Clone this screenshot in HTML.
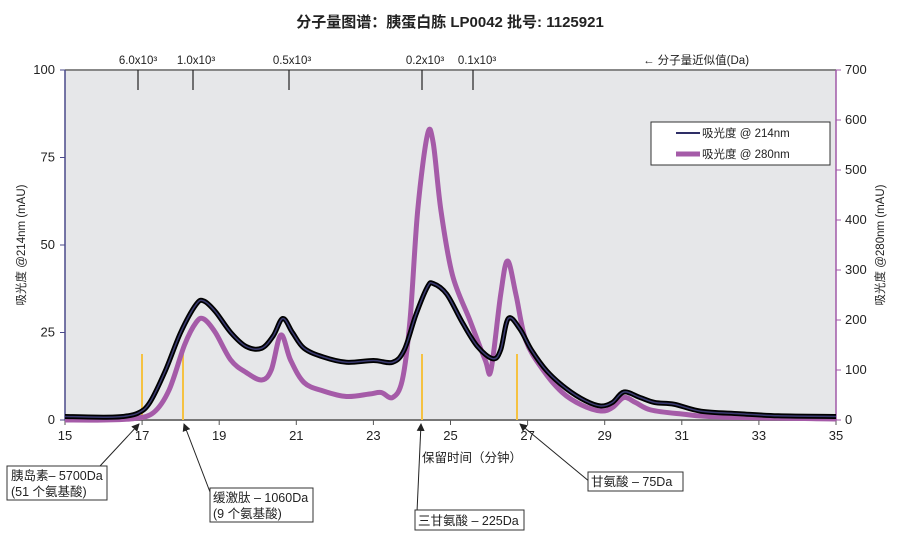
<!DOCTYPE html>
<html><head><meta charset="utf-8"><style>
body{margin:0;background:#fff;width:901px;height:536px;overflow:hidden}
svg{font-family:"Liberation Sans","Noto Sans CJK SC",sans-serif}
</style></head><body>
<svg id="s" width="901" height="536" viewBox="0 0 901 536" xmlns="http://www.w3.org/2000/svg">
<defs><marker id="ar" markerWidth="8" markerHeight="8" refX="7" refY="4" orient="auto"><path d="M0,0 L8,4 L0,8 z" fill="#222"/></marker></defs>
<text x="450" y="27" font-size="15" font-weight="bold" text-anchor="middle" fill="#222">分子量图谱：胰蛋白胨 LP0042  批号: 1125921</text>
<rect x="65" y="70" width="771" height="350" fill="#e6e7e9"/>
<line x1="65" y1="70" x2="836" y2="70" stroke="#888" stroke-width="2"/>
<line x1="65" y1="70" x2="65" y2="420" stroke="#4a4a8a" stroke-width="1.5"/>
<line x1="836" y1="70" x2="836" y2="420" stroke="#a05aa8" stroke-width="1.5"/>
<line x1="65" y1="420" x2="836" y2="420" stroke="#777" stroke-width="2"/>
<g id="ticks" font-size="13" fill="#222"></g>
<g stroke="#222" stroke-width="1.2">
<line x1="138" y1="70" x2="138" y2="90"/><line x1="193" y1="70" x2="193" y2="90"/><line x1="289" y1="70" x2="289" y2="90"/><line x1="422" y1="70" x2="422" y2="90"/><line x1="473" y1="70" x2="473" y2="90"/>
</g>
<g font-size="11.5" fill="#222" text-anchor="middle">
<text x="138" y="64">6.0x10³</text><text x="196" y="64">1.0x10³</text><text x="292" y="64">0.5x10³</text><text x="425" y="64">0.2x10³</text><text x="477" y="64">0.1x10³</text>
<text x="696" y="64">← 分子量近似值(Da)</text>
</g>
<g stroke="#f5c242" stroke-width="2">
<line x1="142" y1="354" x2="142" y2="420"/><line x1="183" y1="354" x2="183" y2="420"/><line x1="422" y1="354" x2="422" y2="420"/><line x1="517" y1="354" x2="517" y2="420"/>
</g>
<path id="pp" fill="none" stroke="#a55ba8" stroke-width="5" stroke-linejoin="round"/>
<path id="bp" fill="none" stroke="#000" stroke-width="5" stroke-linejoin="round"/>
<path id="bp2" fill="none" stroke="#3a3a70" stroke-width="1.5" stroke-linejoin="round"/>
<rect x="651" y="122" width="179" height="43" fill="#fff" stroke="#333"/>
<line x1="676" y1="133" x2="700" y2="133" stroke="#2e2e66" stroke-width="2"/>
<line x1="676" y1="154" x2="700" y2="154" stroke="#a55ba8" stroke-width="5"/>
<text x="702" y="137" font-size="11.5" fill="#222">吸光度 @ 214nm</text>
<text x="702" y="158" font-size="11.5" fill="#222">吸光度 @ 280nm</text>
<text transform="translate(25,245) rotate(-90)" font-size="11.5" text-anchor="middle" fill="#222">吸光度 @214nm (mAU)</text>
<text transform="translate(884,245) rotate(-90)" font-size="11.5" text-anchor="middle" fill="#222">吸光度 @280nm (mAU)</text>
<text x="472" y="462" font-size="12.5" text-anchor="middle" fill="#222">保留时间（分钟）</text>
<g stroke="#222" stroke-width="1" marker-end="url(#ar)">
<line x1="100" y1="466" x2="139" y2="424"/><line x1="210" y1="492" x2="184" y2="424"/><line x1="417" y1="512" x2="421" y2="424"/><line x1="590" y1="482" x2="520" y2="424"/>
</g>
<g fill="#fff" stroke="#333"><rect x="7" y="466" width="100" height="34"/><rect x="210" y="488" width="103" height="34"/><rect x="415" y="510" width="109" height="20"/><rect x="588" y="472" width="95" height="19"/></g>
<g font-size="12.5" fill="#222">
<text x="11" y="480">胰岛素– 5700Da</text><text x="11" y="496">(51 个氨基酸)</text>
<text x="213" y="502">缓激肽 – 1060Da</text><text x="213" y="518">(9 个氨基酸)</text>
<text x="418" y="525">三甘氨酸 – 225Da</text>
<text x="591" y="486">甘氨酸  – 75Da</text>
</g>
</svg>
<script>
var X=t=>65+(t-15)*38.55;
var b=[[15,1],[16,0.8],[16.5,1],[16.9,2],[17.2,5],[17.6,14],[18,25],[18.4,33],[18.6,34],[18.9,31],[19.3,25],[19.7,21],[20.1,20.5],[20.4,24],[20.65,29],[20.9,25],[21.2,20.5],[21.7,18],[22.3,16.5],[23,17],[23.5,16.5],[23.8,20],[24.1,30],[24.4,38],[24.55,39],[24.9,36],[25.3,28],[25.7,21],[26.1,17.5],[26.3,20],[26.5,29],[26.8,26],[27.1,20],[27.5,14],[28,9],[28.5,5.5],[28.9,4],[29.2,5],[29.5,8],[29.9,6.5],[30.3,5],[30.8,4.5],[31.5,2.5],[32.5,1.8],[33.5,1.2],[35,1]];
var p=[[15,0],[16,0],[16.8,3],[17.3,15],[17.7,60],[18.1,150],[18.4,195],[18.6,202],[18.9,175],[19.3,120],[19.7,95],[20.1,80],[20.35,100],[20.6,170],[20.85,120],[21.2,75],[21.7,58],[22.3,47],[22.9,52],[23.2,55],[23.5,45],[23.75,80],[23.95,200],[24.15,420],[24.4,570],[24.55,555],[24.75,420],[25.05,290],[25.5,200],[25.9,120],[26.05,100],[26.3,250],[26.48,318],[26.7,250],[26.95,160],[27.4,100],[27.9,55],[28.4,30],[28.9,18],[29.2,25],[29.5,45],[29.8,35],[30.2,20],[31,12],[32,6],[35,2]];
function path(d,Y){var q=d.map(a=>[X(a[0]),Y(a[1])]),s="M"+q[0][0]+","+q[0][1];
for(var i=0;i<q.length-1;i++){var p0=q[Math.max(i-1,0)],p1=q[i],p2=q[i+1],p3=q[Math.min(i+2,q.length-1)];
s+=" C"+(p1[0]+(p2[0]-p0[0])/6)+","+(p1[1]+(p2[1]-p0[1])/6)+" "+(p2[0]-(p3[0]-p1[0])/6)+","+(p2[1]-(p3[1]-p1[1])/6)+" "+p2[0]+","+p2[1];}return s;}
var bd=path(b,v=>420-v*3.5);
document.getElementById('bp').setAttribute('d',bd);document.getElementById('bp2').setAttribute('d',bd);
document.getElementById('pp').setAttribute('d',path(p,v=>420-v*0.5));
var g=document.getElementById('ticks'),h="";
for(var t=15;t<=35;t+=2){var x=X(t);h+='<line x1="'+x+'" y1="420" x2="'+x+'" y2="425" stroke="#555"/><text x="'+x+'" y="440" text-anchor="middle">'+t+'</text>';}
for(var v=0;v<=100;v+=25){var y=420-v*3.5;h+='<line x1="60" y1="'+y+'" x2="65" y2="'+y+'" stroke="#4a4a8a"/><text x="55" y="'+(y+4)+'" text-anchor="end">'+v+'</text>';}
for(var v=0;v<=700;v+=100){var y=420-v*0.5;h+='<line x1="836" y1="'+y+'" x2="841" y2="'+y+'" stroke="#a05aa8"/><text x="845" y="'+(y+4)+'">'+v+'</text>';}
g.innerHTML=h;
</script>
</body></html>
